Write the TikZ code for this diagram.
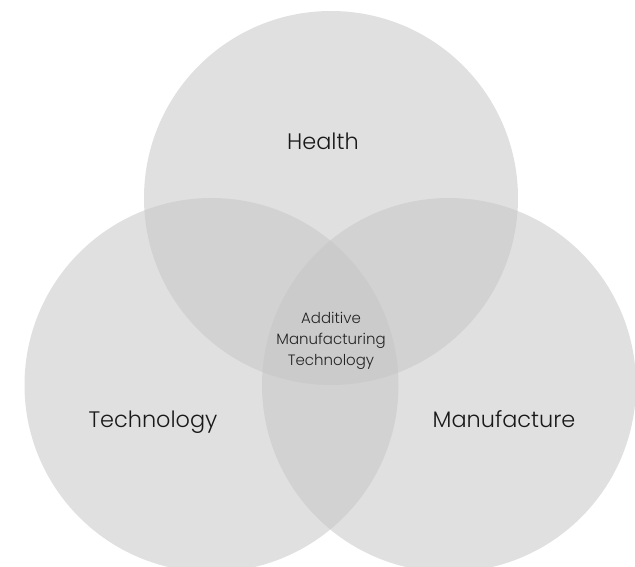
\documentclass[tikz,border=0pt]{standalone}
\usepackage{fontspec}
\setmainfont{Poppins}[UprightFont=* Light]
\begin{document}
\begin{tikzpicture}[x=1pt,y=-1pt,
  venn/.style={fill={rgb,255:red,198;green,198;blue,198},fill opacity=0.55,draw=none},
  biglabel/.style={anchor=base,text={rgb,255:red,25;green,25;blue,25},font=\fontsize{22.4}{26}\selectfont,inner sep=0pt},
  smalllabel/.style={anchor=base,text={rgb,255:red,35;green,35;blue,35},font=\fontsize{15}{18}\selectfont,inner sep=0pt}]
\useasboundingbox (0,0) rectangle (635,566);
\begin{scope}
\clip (0,0) rectangle (635,566);
\fill[venn] (331,198) circle[radius=187];
\fill[venn] (211.5,385) circle[radius=187];
\fill[venn] (449,385) circle[radius=187];
\end{scope}
\node[biglabel] (health) at (323,149) {Health};
\node[biglabel] (tech) at (153,427.5) {Technology};
\node[biglabel] (manu) at (504,427.5) {Manufacture};
\node[smalllabel] (am1) at (331,323) {Additive};
\node[smalllabel] (am2) at (331,344) {Manufacturing};
\node[smalllabel] (am3) at (331,365) {Technology};
\end{tikzpicture}
\end{document}
